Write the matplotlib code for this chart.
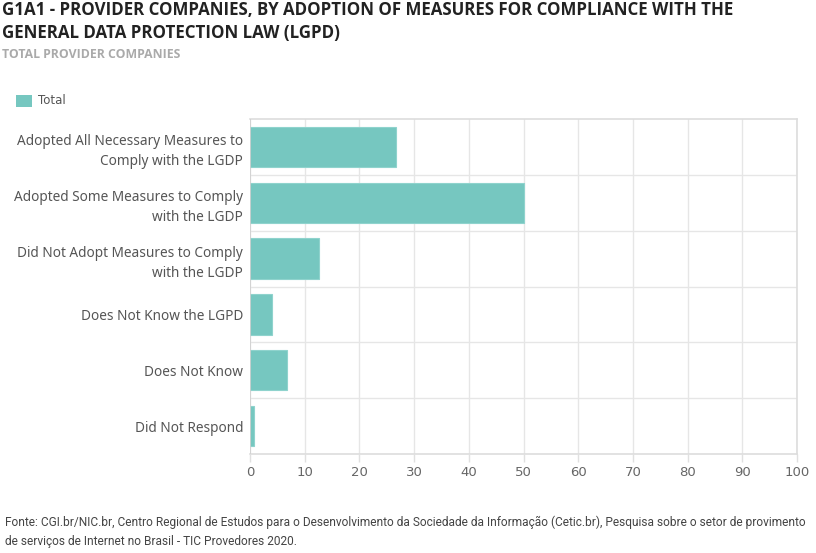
import matplotlib.pyplot as plt
from matplotlib.patches import Rectangle

categories = [
    "Adopted All Necessary Measures to\nComply with the LGDP",
    "Adopted Some Measures to Comply\nwith the LGDP",
    "Did Not Adopt Measures to Comply\nwith the LGDP",
    "Does Not Know the LGPD",
    "Does Not Know",
    "Did Not Respond",
]
totals = [26.6, 50.0, 12.7, 4.0, 6.8, 0.8]
xticks = list(range(0, 101, 10))

bar_color = "#76C7C0"

fig = plt.figure(figsize=(8.16, 5.53), dpi=100)
ax = fig.add_axes([250 / 816, 1 - 454 / 553, 547 / 816, 335 / 553])

ypos = list(range(len(categories)))
ax.barh(ypos, totals, height=0.72, color=bar_color, edgecolor="#8fd3cd",
        linewidth=0.8, zorder=2)

ax.set_xlim(0, 100)
ax.set_ylim(len(categories) - 0.5, -0.5)
ax.set_xticks(xticks)
ax.set_yticks(ypos)
ax.set_yticklabels(categories, fontsize=9.8, color="#555555", family="Noto Sans",
                   linespacing=1.5)
ax.tick_params(axis="x", colors="#666666", labelsize=9.5, length=6, width=1,
               color="#e0e0e0", pad=3)
ax.tick_params(axis="y", length=0, pad=5)
for lbl in ax.get_xticklabels():
    lbl.set_family("DejaVu Sans")

# grid: vertical every 10, horizontal between categories
for x in xticks:
    ax.axvline(x, color="#e6e6e6", lw=1, zorder=1)
for b in range(1, len(categories)):
    ax.axhline(b - 0.5, color="#e6e6e6", lw=1, zorder=1)
ax.axvline(0, color="#d0d0d0", lw=1.2, zorder=3)

for s in ["top", "right", "bottom"]:
    ax.spines[s].set_color("#dddddd")
    ax.spines[s].set_linewidth(1.2)
ax.spines["left"].set_visible(False)

fig.text(2 / 816, 1 - 10 / 553,
         "G1A1 - PROVIDER COMPANIES, BY ADOPTION OF MEASURES FOR COMPLIANCE WITH THE",
         fontsize=12.2, fontweight="bold", family="Open Sans", color="#222222",
         va="center", ha="left")
fig.text(2 / 816, 1 - 33 / 553, "GENERAL DATA PROTECTION LAW (LGPD)",
         fontsize=12.2, fontweight="bold", family="Open Sans", color="#222222",
         va="center", ha="left")
fig.text(2 / 816, 1 - 54 / 553, "TOTAL PROVIDER COMPANIES",
         fontsize=8.8, fontweight="bold", family="Open Sans", color="#aaaaaa",
         va="center", ha="left")

# legend
fig.patches.append(Rectangle((16 / 816, 1 - 107 / 553), 16 / 816, 12 / 553,
                             transform=fig.transFigure, facecolor=bar_color,
                             edgecolor="none"))
fig.text(38 / 816, 1 - 101 / 553, "Total", fontsize=8.5, color="#555555",
         va="center", ha="left")

fig.text(5 / 816, 1 - 522 / 553,
         "Fonte: CGI.br/NIC.br, Centro Regional de Estudos para o Desenvolvimento da Sociedade da Informação (Cetic.br), Pesquisa sobre o setor de provimento",
         fontsize=8.6, family="Roboto", color="#444444", va="center", ha="left")
fig.text(5 / 816, 1 - 541 / 553,
         "de serviços de Internet no Brasil - TIC Provedores 2020.",
         fontsize=8.6, family="Roboto", color="#444444", va="center", ha="left")

fig.savefig("out.png", dpi=100)
